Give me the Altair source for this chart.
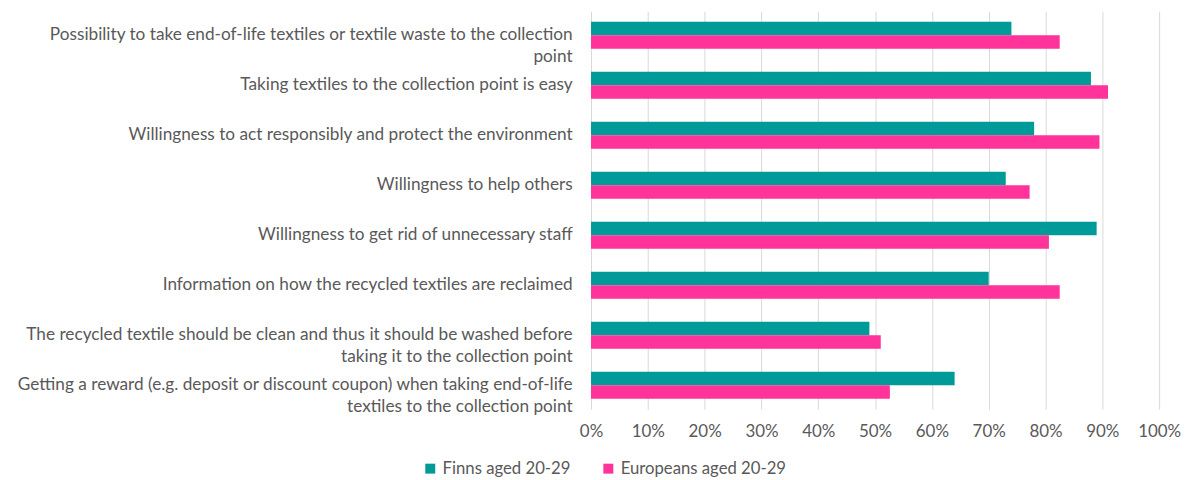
import altair as alt
import pandas as pd

categories = [
    "Possibility to take end-of-life textiles or textile waste to the collection\npoint",
    "Taking textiles to the collection point is easy",
    "Willingness to act responsibly and protect the environment",
    "Willingness to help others",
    "Willingness to get rid of unnecessary staff",
    "Information on how the recycled textiles are reclaimed",
    "The recycled textile should be clean and thus it should be washed before\ntaking it to the collection point",
    "Getting a reward (e.g. deposit or discount coupon) when taking end-of-life\ntextiles to the collection point",
]
series = ["Finns aged 20-29", "Europeans aged 20-29"]
finns = [74, 88, 78, 73, 89, 70, 49, 64]
europeans = [82.5, 91, 89.5, 77.2, 80.6, 82.5, 51, 52.6]
x_ticks = [0, 0.1, 0.2, 0.3, 0.4, 0.5, 0.6, 0.7, 0.8, 0.9, 1.0]
colors = ["#009B98", "#FF3399"]

rows = []
for c, f, e in zip(categories, finns, europeans):
    rows.append({"category": c, "series": series[0], "value": f / 100})
    rows.append({"category": c, "series": series[1], "value": e / 100})
df = pd.DataFrame(rows)

FONT = "Lato"
GREY = "#595959"

chart = alt.Chart(df).mark_bar().encode(
    y=alt.Y(
        "category:N",
        sort=categories,
        title=None,
        scale=alt.Scale(paddingInner=0.46, paddingOuter=0.21),
        axis=alt.Axis(
            labelExpr="split(datum.label, '\\n')",
            labelAlign="right",
            labelPadding=19,
            labelFontSize=17.3,
            labelLineHeight=22,
            labelColor=GREY,
            labelFont=FONT,
            ticks=False,
            domain=False,
            labelLimit=0,
        ),
    ),
    yOffset=alt.YOffset("series:N", sort=series),
    x=alt.X(
        "value:Q",
        title=None,
        scale=alt.Scale(domain=[0, 1], nice=False),
        axis=alt.Axis(
            values=x_ticks,
            format=".0%",
            labelFontSize=17,
            labelColor=GREY,
            labelFont=FONT,
            labelPadding=14,
            labelOverlap=False,
            labelFlush=False,
            ticks=False,
            domain=False,
            grid=True,
            gridColor="#D9D9D9",
            gridWidth=1,
        ),
    ),
    color=alt.Color(
        "series:N",
        sort=series,
        scale=alt.Scale(domain=series, range=colors),
        legend=alt.Legend(
            title=None,
            orient="none",
            direction="horizontal",
            legendX=-170,
            legendY=451,
            symbolType="square",
            symbolSize=100,
            symbolStrokeWidth=0,
            labelFontSize=16.8,
            labelColor=GREY,
            labelFont=FONT,
            labelOffset=4,
            labelLimit=0,
            columnPadding=29,
        ),
    ),
).properties(
    width=571,
    height=400,
    autosize=alt.AutoSizeParams(type="none"),
    padding={"left": 586, "top": 2, "right": 25, "bottom": 68},
).configure_view(stroke=None)

chart.save("out.html", embed_options={"renderer": "svg", "actions": False})
